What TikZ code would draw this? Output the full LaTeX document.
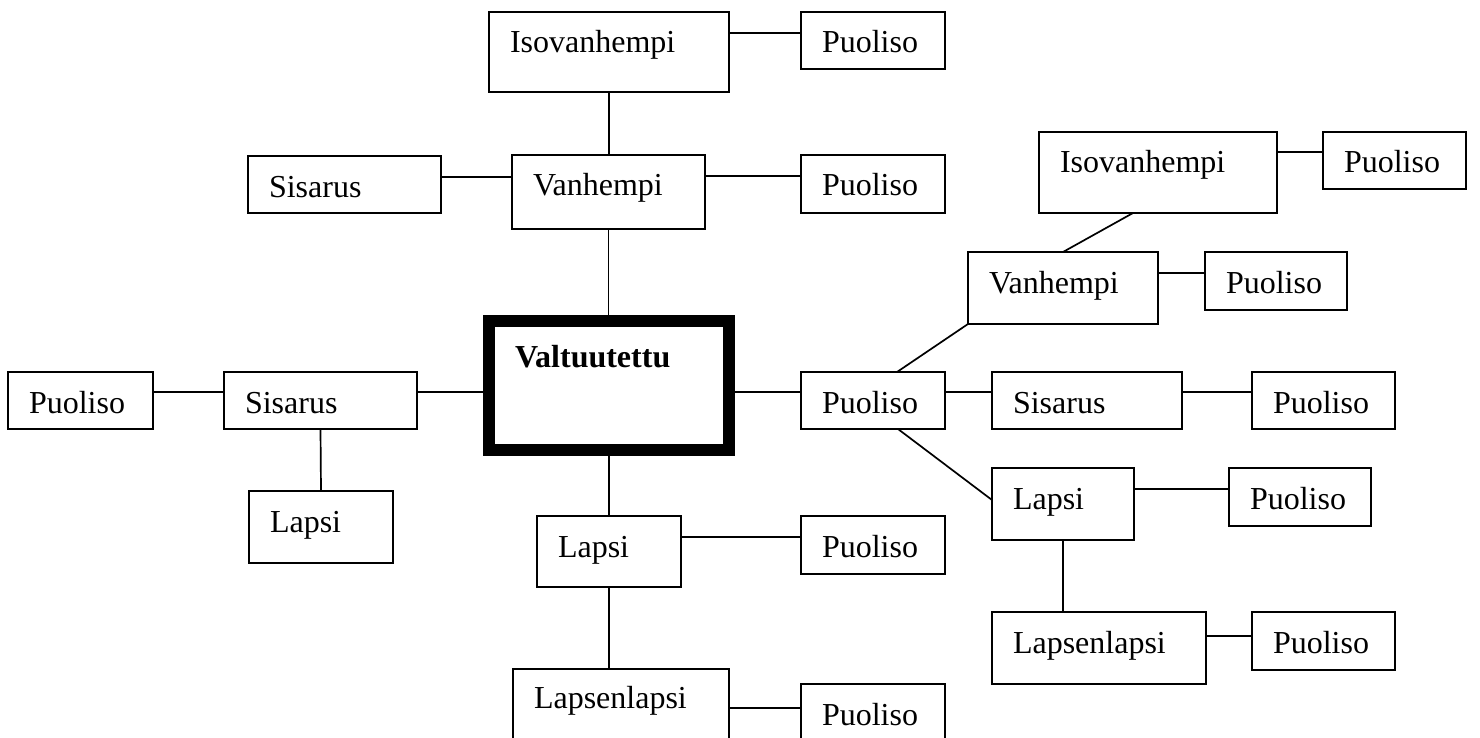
\documentclass[tikz,border=0pt]{standalone}
\usepackage{fontspec}
\setmainfont{Liberation Serif}
\tikzset{
  kin/.style 2 args={draw, line width=1.7pt, outer sep=0pt, anchor=north west, inner xsep=21pt, inner ysep=0pt,
    align=left, text width=#1, text height=41pt, text depth=#2, font=\fontsize{32}{36}\selectfont},
  link/.style={line width=1.7pt},
}
\begin{document}
\begin{tikzpicture}[x=1pt,y=-1pt]
\path[use as bounding box, clip] (0,0) rectangle (1480,738);
%
\node[kin={198pt}{39pt}] (isoA) at (489,12) {Isovanhempi};
\node[kin={102pt}{16pt}] (puoA) at (801,12) {Puoliso};
\node[kin={151pt}{16pt}] (sisA) at (248,156) {Sisarus};
\node[kin={151pt}{33pt}] (vanA) at (512,155) {Vanhempi};
\node[kin={102pt}{17pt}] (puoB) at (801,155) {Puoliso};
%
\node[draw, line width=12pt, outer sep=0pt, anchor=north west, inner xsep=26pt, inner ysep=0pt, align=left,
  text width=188pt, text height=46pt, text depth=83pt, font=\fontsize{32}{36}\selectfont\bfseries]
  (valt) at (489,321) {Valtuutettu};
%
\node[kin={103pt}{16pt}] (puoL) at (8,372) {Puoliso};
\node[kin={151pt}{16pt}] (sisL) at (224,372) {Sisarus};
\node[kin={102pt}{31pt}] (lapL) at (249,491) {Lapsi};
%
\node[kin={102pt}{30pt}] (lapC) at (537,516) {Lapsi};
\node[kin={102pt}{17pt}] (puoC) at (801,516) {Puoliso};
\node[kin={174pt}{51pt}, text height=39pt] (llC) at (513,669) {Lapsenlapsi};
\node[kin={102pt}{29pt}] (puoM) at (801,684) {Puoliso};
%
\node[kin={102pt}{16pt}] (puoN) at (801,372) {Puoliso};
\node[kin={196pt}{40pt}] (isoR) at (1039,132) {Isovanhempi};
\node[kin={101pt}{16pt}] (puoIR) at (1323,132) {Puoliso};
\node[kin={148pt}{31pt}] (vanR) at (968,252) {Vanhempi};
\node[kin={100pt}{17pt}] (puoVR) at (1205,252) {Puoliso};
\node[kin={148pt}{16pt}] (sisR) at (992,372) {Sisarus};
\node[kin={101pt}{16pt}] (puoSR) at (1252,372) {Puoliso};
\node[kin={100pt}{31pt}] (lapR) at (992,468) {Lapsi};
\node[kin={100pt}{17pt}] (puoLR) at (1229,468) {Puoliso};
\node[kin={172pt}{31pt}] (llR) at (992,612) {Lapsenlapsi};
\node[kin={101pt}{17pt}] (puoLLR) at (1252,612) {Puoliso};
%
\draw[link] ([yshift=-21pt]isoA.north east) -- ([yshift=-21pt]puoA.north west);
\draw[link] (isoA.south) -- (isoA.south |- vanA.north);
\draw[link] ([yshift=-21pt]sisA.north east) -- ([yshift=-22pt]vanA.north west);
\draw[link] ([yshift=-21pt]vanA.north east) -- ([yshift=-21pt]puoB.north west);
\draw[link] (vanA.south) -- (vanA.south |- valt.north);
%
\draw[link] ([yshift=-20pt]puoL.north east) -- ([yshift=-20pt]sisL.north west);
\draw[link] ([yshift=-20pt]sisL.north east) -- ([yshift=-6.5pt]valt.west);
\draw[link] (sisL.south) -- (lapL.north);
\draw[link] ([yshift=-6.5pt]valt.east) -- ([yshift=-20pt]puoN.north west);
\draw[link] ([yshift=-20pt]puoN.north east) -- ([yshift=-20pt]sisR.north west);
\draw[link] ([yshift=-20pt]sisR.north east) -- ([yshift=-20pt]puoSR.north west);
%
\draw[link] (valt.south) -- (lapC.north);
\draw[link] ([yshift=-21pt]lapC.north east) -- ([yshift=-21pt]puoC.north west);
\draw[link] (lapC.south) -- (lapC.south |- llC.north);
\draw[link] ([yshift=-39pt]llC.north east) -- ([yshift=-24pt]puoM.north west);
%
\draw[link] ([xshift=24pt]puoN.north) -- (vanR.south west);
\draw[link] (vanR.north) -- ([xshift=-25pt]isoR.south);
\draw[link] ([yshift=-20pt]isoR.north east) -- ([yshift=-20pt]puoIR.north west);
\draw[link] ([yshift=-21pt]vanR.north east) -- ([yshift=-21pt]puoVR.north west);
\draw[link] ([xshift=25pt]puoN.south) -- ([yshift=-32pt]lapR.north west);
\draw[link] ([yshift=-21pt]lapR.north east) -- ([yshift=-21pt]puoLR.north west);
\draw[link] (lapR.south) -- (lapR.south |- llR.north);
\draw[link] ([yshift=-24pt]llR.north east) -- ([yshift=-24pt]puoLLR.north west);
\end{tikzpicture}
\end{document}
